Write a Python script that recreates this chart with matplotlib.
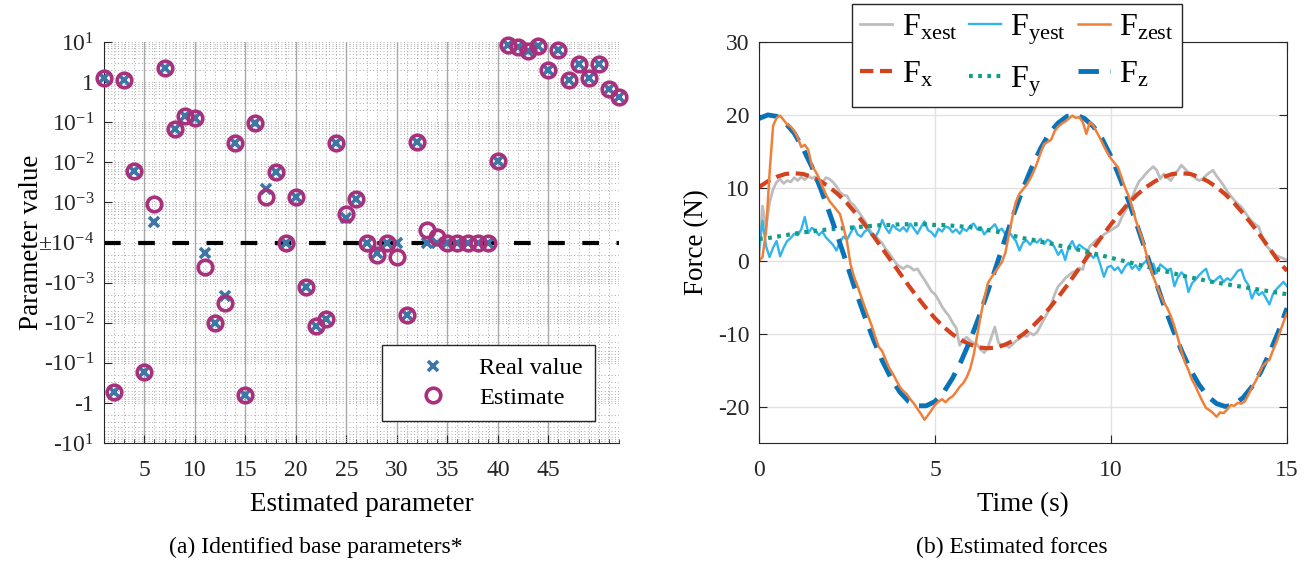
import numpy as np
import matplotlib
matplotlib.use("Agg")
import matplotlib.pyplot as plt
from matplotlib.ticker import FixedLocator, NullFormatter

plt.rcParams["font.family"] = ["Liberation Serif", "DejaVu Serif"]
plt.rcParams["mathtext.fontset"] = "custom"
plt.rcParams["mathtext.rm"] = "Liberation Serif"
plt.rcParams["mathtext.it"] = "Liberation Serif:italic"
plt.rcParams["mathtext.bf"] = "Liberation Serif:bold"
plt.rcParams["axes.unicode_minus"] = False

# ---- (a) identified base parameters ----
param_idx = list(range(1, 53))
real_value = [1.3, -0.53, 1.1, 0.0059, -0.17, 3.3e-4, 2.2, 0.069, 0.14, 0.13,
              -1.8e-4, -0.01, -2.2e-3, 0.031, -0.62, 0.093, 2.1e-3, 5.6e-3, 1e-4, 1.4e-3,
              -1.3e-3, -0.012, -8.3e-3, 0.031, 4.2e-4, 1.2e-3, 1e-4, -1.8e-4, 1e-4, 1e-4,
              -6.3e-3, 0.033, 1e-4, 1e-4, 1e-4, 1e-4, 1e-4, 1e-4, 1e-4, 0.011,
              8.2, 7.3, 5.8, 8.0, 2.0, 6.5, 1.15, 2.8, 1.3, 2.8,
              0.66, 0.42]
estimate = [1.3, -0.53, 1.1, 0.0059, -0.17, 9.3e-4, 2.2, 0.069, 0.14, 0.13,
            -4e-4, -0.01, -3.2e-3, 0.031, -0.62, 0.093, 1.4e-3, 5.6e-3, 1e-4, 1.4e-3,
            -1.3e-3, -0.012, -8.3e-3, 0.031, 5e-4, 1.2e-3, 1e-4, -2e-4, 1e-4, -2.3e-4,
            -6.3e-3, 0.033, 2.1e-4, 1.4e-4, 1e-4, 1e-4, 1e-4, 1e-4, 1e-4, 0.011,
            8.2, 7.3, 5.8, 8.0, 2.0, 6.5, 1.15, 2.8, 1.3, 2.8,
            0.66, 0.42]
ytick_vals = [-10, -1, -0.1, -0.01, -1e-3, 1e-4, 1e-3, 1e-2, 0.1, 1, 10]
ytick_labels = ["-10$^{1}$", "-1", "-10$^{-1}$", "-10$^{-2}$", "-10$^{-3}$", "±10$^{-4}$",
                "10$^{-3}$", "10$^{-2}$", "10$^{-1}$", "1", "10$^{1}$"]
xtick_vals = [5, 10, 15, 20, 25, 30, 35, 40, 45]

# ---- (b) estimated forces ----
t_ref = np.arange(0, 15.001, 0.25)
Fx = [10.1, 10.9, 11.5, 11.9, 12.0, 11.9, 11.5, 10.9, 10.1, 9.1, 7.9, 6.5, 5.0, 3.4, 1.7, 0.0,
      -1.7, -3.4, -5.0, -6.5, -7.9, -9.1, -10.1, -10.9, -11.5, -11.9, -12.0, -11.9, -11.5, -10.9,
      -10.1, -9.1, -7.9, -6.5, -5.0, -3.4, -1.7, 0.0, 1.7, 3.4, 5.0, 6.5, 7.9, 9.1, 10.1, 10.9,
      11.5, 11.9, 12.0, 11.9, 11.5, 10.9, 10.1, 9.1, 7.9, 6.5, 5.0, 3.4, 1.7, 0.0, -1.4]
Fy = [3.0, 3.1, 3.3, 3.5, 3.7, 3.9, 4.0, 4.2, 4.3, 4.4, 4.5, 4.6, 4.7, 4.8, 4.9, 4.9,
      5.0, 5.0, 5.0, 5.0, 4.9, 4.9, 4.8, 4.7, 4.6, 4.4, 4.2, 4.0, 3.7, 3.4, 3.1, 2.9,
      2.6, 2.4, 2.1, 1.9, 1.6, 1.3, 1.0, 0.7, 0.4, 0.1, -0.2, -0.5, -0.8, -1.1, -1.4, -1.7,
      -2.0, -2.3, -2.5, -2.8, -3.0, -3.2, -3.4, -3.6, -3.8, -4.0, -4.2, -4.4, -4.6]
Fz = [19.5, 20.0, 19.8, 18.9, 17.5, 15.4, 12.9, 9.9, 6.6, 3.1, -0.5, -4.2, -7.6, -10.8, -13.7,
      -16.1, -18.0, -19.3, -19.9, -19.9, -19.3, -18.0, -16.1, -13.7, -10.9, -7.7, -4.2, -0.6,
      3.1, 6.6, 9.9, 12.8, 15.4, 17.5, 18.9, 19.8, 20.0, 19.5, 18.4, 16.7, 14.3, 11.4, 8.2,
      4.7, 1.1, -2.5, -6.1, -9.3, -12.3, -14.9, -17.0, -18.6, -19.6, -20.0, -19.7, -18.8,
      -17.3, -15.3, -12.7, -9.8, -6.5]

t_est = np.round(np.arange(0, 15.001, 0.1), 1)
Fxest = [0.2, 7.5, 4.5, 8.0, 9.8, 10.8, 11.2, 10.6, 11.0, 10.8,
         11.4, 11.0, 11.5, 11.1, 11.6, 11.3, 11.5, 10.9, 10.7, 11.4,
         11.2, 10.8, 10.2, 9.4, 9.0, 8.9, 8.0, 7.6, 6.9, 6.2,
         5.5, 4.6, 3.8, 3.4, 2.9, 2.4, 1.6, 1.0, 0.3, -0.4,
         -0.8, -1.1, -0.7, -0.9, -1.3, -1.1, -1.9, -2.6, -3.4, -4.2,
         -4.6, -5.4, -6.3, -7.0, -7.6, -8.5, -9.2, -11.6, -10.9, -10.5,
         -11.0, -11.3, -11.5, -12.2, -12.6, -11.9, -10.5, -9.1, -11.2, -11.6,
         -11.4, -11.9, -11.5, -11.0, -10.7, -10.1, -10.4, -9.9, -10.2, -9.8,
         -8.9, -8.0, -7.1, -6.0, -4.6, -3.5, -3.0, -2.4, -2.0, -1.6,
         -1.4, -1.0, -1.2, 0.9, 2.0, 2.4, 2.9, 3.1, 3.6, 3.9,
         4.2, 4.5, 4.8, 5.9, 6.8, 7.6, 8.7, 9.9, 10.9, 11.4,
         12.0, 12.5, 12.9, 12.4, 11.2, 11.9, 11.4, 11.0, 11.8, 12.4,
         13.1, 12.6, 12.1, 11.8, 11.3, 11.0, 11.2, 11.7, 12.1, 12.4,
         11.6, 11.0, 10.3, 9.5, 8.9, 8.3, 7.8, 7.4, 6.7, 6.0,
         5.4, 5.0, 4.6, 3.2, 2.1, 1.6, 1.1, 0.7, 0.5, 0.3,
         0.1]
Fyest = [1.5, 5.5, 2.0, 0.5, 1.8, 2.7, 0.6, 1.8, 2.7, 3.1,
         3.7, 3.5, 4.3, 6.0, 3.8, 4.5, 4.2, 3.5, 4.0, 3.2,
         2.7, 2.2, 1.4, 2.6, 3.3, 2.9, 3.8, 4.7, 3.6, 3.3,
         4.0, 4.3, 3.5, 3.2, 4.1, 5.6, 4.5, 3.8, 4.9, 4.4,
         4.1, 4.6, 4.0, 5.1, 4.4, 3.7, 4.6, 5.4, 4.2, 3.9,
         3.3, 4.4, 4.0, 4.7, 4.5, 3.9, 4.3, 3.7, 4.4, 4.1,
         4.8, 5.1, 4.3, 4.6, 3.6, 4.2, 4.5, 5.0, 4.1, 4.4,
         3.6, 4.0, 3.3, 2.7, 1.4, 2.5, 2.8, 2.2, 2.8, 2.5,
         3.0, 2.3, 2.9, 2.6, 1.8, 0.8, 1.5, 0.1, 1.9, 2.7,
         1.6, 2.2, 1.8, 1.5, 0.9, 0.4, 0.9, -0.6, -2.2, -0.9,
         -0.7, -1.3, -0.9, -1.7, -0.8, -0.3, -1.1, -0.6, -1.3, -0.5,
         0.0, -0.9, -0.4, -1.7, -0.5, -0.9, -1.3, -1.1, -3.5, -2.3,
         -1.6, -2.1, -4.3, -3.1, -2.6, -2.0, -1.5, -1.1, -2.6, -3.0,
         -2.5, -2.1, -2.9, -2.4, -2.7, -2.1, -1.4, -1.2, -2.6, -3.3,
         -5.2, -4.1, -4.7, -4.3, -5.1, -6.0, -4.6, -3.9, -3.4, -2.9,
         -3.5]
Fzest = [0.0, 0.5, 4.0, 12.0, 18.5, 19.6, 19.9, 19.3, 18.7, 18.4,
         17.8, 16.9, 15.6, 15.9, 15.2, 13.0, 12.3, 11.4, 10.2, 9.1,
         8.2, 7.6, 7.0, 6.4, 4.6, 2.6, -0.5, -2.2, -3.5, -4.9,
         -6.3, -7.6, -8.9, -10.4, -11.8, -12.4, -13.6, -14.7, -15.5, -16.4,
         -17.3, -17.9, -18.3, -19.0, -19.6, -20.3, -21.0, -21.8, -21.2, -20.5,
         -19.8, -19.3, -19.0, -19.4, -18.9, -18.6, -18.0, -17.3, -16.8, -16.0,
         -14.8, -12.9, -10.2, -7.5, -5.2, -3.1, -2.3, -1.6, -0.9, -0.2,
         1.1, 3.6, 6.0, 8.1, 9.2, 9.8, 10.4, 11.2, 12.2, 13.4,
         14.8, 16.0, 16.3, 16.6, 17.8, 18.4, 18.8, 19.1, 19.5, 19.9,
         19.6, 19.7, 19.0, 17.4, 19.0, 18.5, 17.6, 16.7, 15.7, 14.8,
         14.0, 13.4, 12.8, 11.4, 10.0, 8.9, 7.4, 5.6, 4.2, 2.8,
         1.0, -0.6, -2.2, -3.4, -4.6, -5.7, -6.5, -7.6, -9.0, -10.6,
         -12.4, -13.9, -15.0, -16.3, -17.2, -18.3, -19.3, -20.2, -20.5, -20.9,
         -21.4, -20.8, -20.9, -20.4, -19.8, -19.9, -19.5, -19.6, -19.3, -18.4,
         -17.4, -16.6, -15.6, -14.5, -14.0, -13.6, -12.3, -11.2, -9.8, -8.4,
         -7.2]


def fwd(v):
    v = np.asarray(v, dtype=float)
    with np.errstate(divide="ignore", invalid="ignore"):
        m = np.log10(np.abs(v)) + 4
    m = np.where(np.isfinite(m), np.clip(m, 0, None), 0)
    return np.sign(v) * m


def inv(y):
    y = np.asarray(y, dtype=float)
    return np.sign(y) * 10 ** (np.abs(y) - 4)


fig = plt.figure(figsize=(13.1, 5.61), dpi=100)
ax1 = fig.add_axes([104 / 1310, 1 - 443 / 561, 515 / 1310, 401 / 561])
ax2 = fig.add_axes([759 / 1310, 1 - 443 / 561, 528 / 1310, 401 / 561])

tick_fs = 17
label_fs = 19.5

# left panel
ax1.set_yscale("function", functions=(fwd, inv))
ax1.set_xlim(1, 52)
ax1.set_ylim(-10, 10)
minor_y = [s * m * 10.0 ** e for s in (1, -1) for e in range(-4, 1) for m in range(2, 10)]
ax1.yaxis.set_major_locator(FixedLocator(ytick_vals))
ax1.set_yticklabels(ytick_labels)
ax1.yaxis.set_minor_locator(FixedLocator(minor_y))
ax1.yaxis.set_minor_formatter(NullFormatter())
ax1.xaxis.set_major_locator(FixedLocator(xtick_vals))
ax1.xaxis.set_minor_locator(FixedLocator(param_idx))
ax1.grid(True, axis="x", which="major", color="#a8a8a8", lw=1.0, ls="-")
ax1.grid(True, axis="x", which="minor", color="#a8a8a8", lw=0.7, ls=(0, (1, 2.5)))
ax1.grid(True, axis="y", which="both", color="#a8a8a8", lw=0.7, ls=(0, (1, 2.5)))
ax1.set_axisbelow(True)
for s in ("top", "right"):
    ax1.spines[s].set_visible(False)
ax1.spines["left"].set_color("#262626")
ax1.spines["bottom"].set_color("#262626")
ax1.tick_params(which="both", direction="in", labelsize=tick_fs, colors="#262626")
ax1.tick_params(which="major", length=6)
ax1.tick_params(which="minor", length=3)
ax1.tick_params(axis="y", which="minor", length=0)
ax1.tick_params(axis="y", which="major", pad=7)
ax1.tick_params(axis="x", which="major", pad=12)

ax1.axhline(1e-4, color="black", lw=3.0, dashes=(4.0, 4.2), zorder=2)
ax1.plot(param_idx, real_value, "x", color="#3d77a8", ms=7.5, mew=2.6, ls="none",
         label="Real value", zorder=3, clip_on=False)
ax1.plot(param_idx, estimate, "o", mfc="none", mec="#a8307c", ms=10.5, mew=2.6, ls="none",
         label="Estimate", zorder=4, clip_on=False)
ax1.set_xlabel("Estimated parameter", fontsize=label_fs, labelpad=8)
ax1.set_ylabel("Parameter value", fontsize=label_fs, labelpad=-4)
leg1 = ax1.legend(loc="lower right", bbox_to_anchor=(0.953, 0.055), borderaxespad=0,
                  fontsize=17.5, handlelength=3.2, handletextpad=0.3, borderpad=0.5,
                  labelspacing=0.3, fancybox=False, framealpha=1, edgecolor="#262626")
leg1.get_frame().set_linewidth(1.0)
leg1.set_zorder(10)

# right panel
l_xe, = ax2.plot(t_est, Fxest, color="#bdbdbd", lw=2.0)
l_ye, = ax2.plot(t_est, Fyest, color="#32b5ea", lw=1.7)
l_x, = ax2.plot(t_ref, Fx, color="#d4421e", lw=3.0, dashes=(3.2, 1.6))
l_y, = ax2.plot(t_ref, Fy, color="#119d86", lw=3.0, dashes=(0.9, 1.3))
l_z, = ax2.plot(t_ref, Fz, color="#0873b8", lw=3.5, dashes=(4.2, 2.3))
l_ze, = ax2.plot(t_est, Fzest, color="#f07f3a", lw=1.8)
ax2.set_xlim(0, 15)
ax2.set_ylim(-25, 30)
ax2.set_xticks([0, 5, 10, 15])
ax2.set_yticks([-20, -10, 0, 10, 20, 30])
ax2.grid(True, color="#e2e2e2", lw=1.0)
ax2.set_axisbelow(True)
for s in ax2.spines.values():
    s.set_color("#262626")
ax2.tick_params(direction="in", length=6, labelsize=tick_fs, top=True, right=True,
                colors="#262626")
ax2.tick_params(axis="x", pad=12)
ax2.tick_params(axis="y", pad=7)
ax2.set_xlabel("Time (s)", fontsize=label_fs, labelpad=8)
ax2.set_ylabel("Force (N)", fontsize=label_fs, labelpad=6)
handles = [l_xe, l_x, l_ye, l_y, l_ze, l_z]
labels = [r"F$_{\mathregular{xest}}$", r"F$_{\mathregular{x}}$",
          r"F$_{\mathregular{yest}}$", r"F$_{\mathregular{y}}$",
          r"F$_{\mathregular{zest}}$", r"F$_{\mathregular{z}}$"]
leg2 = ax2.legend(handles, labels, ncol=3, loc="upper left", bbox_to_anchor=(0.176, 1.095),
                  borderaxespad=0, fontsize=23, handlelength=1.0, handletextpad=0.3,
                  columnspacing=0.35, labelspacing=0.55, borderpad=0.26,
                  fancybox=False, framealpha=1, edgecolor="#262626")
leg2.get_frame().set_linewidth(1.0)

fig.text(316 / 1310, 1 - 547 / 561, "(a) Identified base parameters*", ha="center",
         va="center", fontsize=17)
fig.text(1012 / 1310, 1 - 547 / 561, "(b) Estimated forces", ha="center", va="center",
         fontsize=17)

fig.savefig("out.png", dpi=100)
